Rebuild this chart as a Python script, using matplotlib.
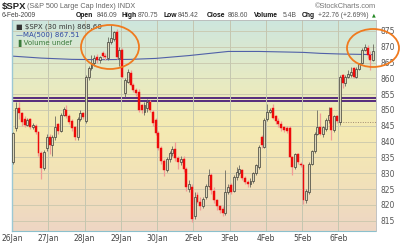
import matplotlib
matplotlib.use("Agg")
import matplotlib.pyplot as plt
import numpy as np
from matplotlib.patches import Ellipse
from matplotlib.colors import LinearSegmentedColormap

# 30 minute bars, 13 per trading day
day_labels = ["26Jan", "27Jan", "28Jan", "29Jan", "30Jan", "2Feb", "3Feb", "4Feb", "5Feb", "6Feb"]

opens = [
    833.5, 844.2, 850.5, 849.0, 847.0, 845.3, 847.0, 844.7, 844.9, 843.1, 836.3, 831.6, 837.9,
    841.6, 838.8, 841.5, 845.5, 843.2, 848.4, 850.0, 848.2, 846.5, 844.7, 841.6, 847.0, 849.0,
    846.5, 860.5, 863.2, 864.8, 866.8, 865.8, 868.0, 867.0, 866.4, 871.6, 872.5, 874.7, 866.5,
    868.9, 855.3, 859.0, 861.6, 857.9, 856.3, 855.8, 851.6, 849.5, 850.5, 852.6, 849.5, 846.8,
    842.6, 838.0, 834.0, 831.0, 834.5, 836.3, 837.8, 834.8, 833.5, 834.5, 831.5, 825.0, 825.7,
    816.5, 823.0, 821.0, 819.5, 822.5, 826.0, 829.4, 824.5, 821.5, 819.5, 818.8, 817.5, 824.0,
    826.3, 824.5, 828.9, 830.0, 831.0, 828.4, 827.3, 826.5, 827.5, 830.0, 832.0, 841.5, 838.4,
    847.0, 849.5, 850.5, 848.0, 846.5, 845.5, 844.5, 844.2, 844.2, 835.0, 832.0, 836.0, 833.0,
    832.6, 821.5, 824.0, 833.0, 837.0, 842.5, 844.5, 842.5, 844.0, 846.8, 850.5, 843.7, 848.0,
    846.1, 861.0, 858.5, 860.5, 861.0, 863.2, 860.5, 863.0, 864.7, 869.0, 869.5, 867.5, 865.8,
]
closes = [
    842.6, 850.5, 849.0, 846.3, 845.3, 846.8, 844.7, 845.3, 843.1, 836.3, 831.6, 836.8, 841.6,
    838.8, 841.5, 844.5, 843.2, 848.4, 850.2, 848.2, 846.3, 844.2, 841.6, 847.2, 849.0, 847.8,
    860.5, 863.2, 864.8, 866.5, 865.8, 866.6, 867.0, 866.6, 871.6, 872.6, 874.5, 866.8, 869.0,
    860.5, 859.5, 862.1, 857.9, 856.3, 855.3, 850.0, 850.0, 851.6, 852.6, 850.0, 845.8, 842.6,
    838.0, 834.0, 831.0, 834.5, 836.5, 837.8, 834.8, 833.5, 834.5, 831.5, 825.5, 826.5, 815.7,
    822.5, 821.0, 819.5, 822.0, 826.0, 829.4, 824.7, 821.5, 819.5, 818.5, 817.5, 824.0, 825.5,
    824.2, 828.9, 830.5, 831.5, 828.4, 827.3, 826.5, 827.5, 830.0, 832.5, 838.4, 838.9, 846.8,
    849.5, 850.0, 847.5, 846.5, 845.5, 844.2, 843.8, 843.5, 835.2, 832.0, 836.0, 833.5, 832.5,
    821.5, 824.5, 833.0, 837.0, 842.5, 844.5, 842.5, 844.5, 846.8, 848.5, 843.7, 848.0, 846.6,
    860.5, 858.5, 860.5, 861.5, 862.0, 860.5, 863.0, 864.7, 869.0, 869.8, 867.4, 865.8, 868.6,
]
highs = [
    843.0, 852.6, 852.6, 849.5, 848.0, 847.5, 847.5, 846.0, 845.5, 843.5, 837.0, 837.5, 842.5,
    842.5, 842.0, 848.0, 846.0, 849.0, 850.8, 851.5, 848.8, 847.0, 845.0, 847.8, 850.0, 849.5,
    861.0, 864.0, 867.5, 867.5, 867.8, 867.2, 868.5, 868.0, 873.0, 876.9, 875.0, 875.5, 870.0,
    869.5, 860.0, 863.0, 862.5, 858.5, 857.0, 856.5, 852.0, 852.5, 853.5, 853.0, 850.0, 847.5,
    843.5, 838.5, 834.5, 835.0, 837.0, 838.5, 840.0, 835.5, 835.5, 835.5, 832.0, 828.0, 826.5,
    824.0, 824.0, 822.5, 822.5, 826.5, 831.5, 830.0, 825.5, 822.0, 820.0, 819.5, 831.0, 826.5,
    827.0, 829.5, 832.0, 832.5, 831.5, 829.0, 828.0, 828.5, 830.5, 833.0, 839.0, 842.0, 847.5,
    852.0, 850.5, 852.0, 848.5, 847.5, 846.5, 845.0, 844.8, 844.8, 835.5, 836.5, 836.5, 833.5,
    833.0, 825.0, 833.5, 837.5, 843.0, 850.0, 849.0, 845.0, 847.5, 851.0, 851.0, 848.5, 848.5,
    861.0, 861.5, 861.0, 862.5, 863.5, 863.7, 863.5, 865.0, 869.5, 870.75, 870.5, 868.5, 871.0,
]
lows = [
    833.0, 843.5, 847.0, 845.0, 844.5, 844.8, 844.0, 844.0, 842.5, 835.5, 828.1, 831.0, 837.0,
    836.0, 835.5, 840.5, 842.5, 843.0, 848.0, 847.5, 845.5, 843.5, 840.5, 840.5, 846.5, 847.0,
    846.0, 859.5, 862.5, 864.0, 865.0, 865.0, 866.3, 865.8, 865.8, 871.0, 871.8, 866.0, 864.0,
    860.0, 854.0, 858.5, 857.5, 855.8, 854.5, 849.5, 849.0, 848.5, 849.5, 849.5, 845.0, 842.0,
    837.5, 833.0, 829.0, 830.5, 833.5, 835.5, 834.0, 831.5, 832.5, 830.5, 824.5, 824.0, 814.5,
    815.5, 820.5, 818.5, 819.0, 822.0, 825.5, 823.5, 820.5, 818.5, 817.5, 816.5, 816.8, 823.5,
    823.5, 824.0, 828.0, 829.5, 828.0, 826.5, 825.5, 825.8, 827.0, 829.5, 831.5, 838.0, 838.0,
    846.5, 849.0, 847.0, 845.5, 844.5, 843.5, 843.0, 842.8, 835.0, 829.5, 831.5, 833.0, 832.0,
    820.3, 820.5, 823.5, 832.5, 836.5, 842.0, 842.0, 841.5, 843.5, 846.0, 840.5, 843.0, 846.0,
    845.4, 856.8, 857.5, 860.0, 860.5, 860.0, 860.0, 862.5, 864.5, 868.5, 866.5, 862.6, 865.5,
]

# MA(500) read at a few bar positions
ma_bars = [0, 10, 21, 31, 42, 51, 63, 77, 88, 99, 104, 110, 117, 129]
ma_vals = [867.0, 866.4, 866.0, 865.9, 866.0, 866.3, 867.2, 868.5, 868.5, 868.3, 868.2, 867.9, 867.7, 867.5]

resistance = [853.9, 852.8]
today_open = 846.09

fig = plt.figure(figsize=(4.0, 2.43), dpi=100)
fig.patch.set_facecolor("white")
ax = fig.add_axes([12 / 400, 1 - 231 / 243, 364 / 400, 211 / 243])

ymin, ymax = 811.75, 878.44
xmin, xmax = -0.5, 130.0

# background gradient
cmap = LinearSegmentedColormap.from_list(
    "bg", ["#cde6de", "#e4eac6", "#f5ebb2", "#f2e2b8", "#eed6c4"])
grad = np.linspace(0, 1, 256).reshape(-1, 1)
ax.imshow(grad, aspect="auto", cmap=cmap, extent=[xmin, xmax, ymin, ymax],
          origin="upper", zorder=0)

ax.set_xlim(xmin, xmax)
ax.set_ylim(ymin, ymax)

# grid
for v in range(815, 880, 5):
    ax.axhline(v, color="#c9c7ad", lw=0.6, zorder=1)
for d in range(1, len(day_labels)):
    ax.axvline(d * 13 - 0.5, color="#c4c6b0", lw=0.7, zorder=1.6)

for r in resistance:
    ax.axhline(r, color="#4a1c78", lw=1.3, zorder=1.5)

ax.hlines(today_open, 117 - 0.5, xmax, colors="#a08a70", lw=0.7,
          linestyles=(0, (1, 1.5)), zorder=1.7)

ax.plot(ma_bars, ma_vals, color="#5060a8", lw=0.8, zorder=2)

# candles
x = np.arange(len(closes))
o = np.array(opens)
c = np.array(closes)
h = np.array(highs)
l = np.array(lows)
up = c >= o
ax.vlines(x[up], l[up], h[up], color="#6a6a60", lw=0.6, zorder=3)
ax.vlines(x[~up], l[~up], h[~up], color="#f29a95", lw=0.9, zorder=3)
body_lo = np.minimum(o, c)
body_h = np.maximum(np.abs(c - o), 0.25)
ax.bar(x[up], body_h[up], bottom=body_lo[up], width=0.7, facecolor="#ddd8bc",
       edgecolor="#3c3c36", linewidth=0.5, zorder=4)
ax.bar(x[~up], body_h[~up], bottom=body_lo[~up], width=0.7, facecolor="#ee0a0a",
       edgecolor="#ee0a0a", linewidth=0.3, zorder=4)

# axes styling
ax.yaxis.tick_right()
ax.set_yticks(range(815, 880, 5))
ax.set_yticklabels([str(v) for v in range(815, 880, 5)], fontsize=5.5, color="#555555")
ax.set_xticks([d * 13 - 0.5 for d in range(len(day_labels))])
ax.set_xticklabels(day_labels, fontsize=5.5, color="#444444")
ax.tick_params(length=0, pad=2)
ax.tick_params(axis="y", pad=3)
for s in ["top", "right"]:
    ax.spines[s].set_color("#b8b8b8")
    ax.spines[s].set_linewidth(0.6)
ax.spines["left"].set_color("#9cc8d4")
ax.spines["left"].set_linewidth(1.0)
ax.spines["bottom"].set_color("#8cc0cc")
ax.spines["bottom"].set_linestyle((0, (1, 1)))
ax.spines["bottom"].set_linewidth(0.8)

# in-plot legend
ax.text(0.012, 0.985, "\u25a0 $SPX (30 min) 868.60", transform=ax.transAxes,
        fontsize=5.0, color="#333333", va="top")
ax.text(0.012, 0.945, "\u2014MA(500) 867.51", transform=ax.transAxes,
        fontsize=5.0, color="#3048a0", va="top")
ax.text(0.012, 0.905, "\u2590 Volume undef", transform=ax.transAxes,
        fontsize=5.0, color="#3a7a3a", va="top")

# header
fig.text(2 / 400, 1 - 7 / 243, "$SPX", fontsize=6.8, fontweight="bold",
         family="Liberation Sans", color="#222222", va="center")
fig.text(27 / 400, 1 - 7 / 243, "(S&P 500 Large Cap Index) INDX", fontsize=5.2,
         family="Liberation Sans", color="#666666", va="center")
fig.text(376 / 400, 1 - 6 / 243, "\u00a9StockCharts.com", fontsize=5.3,
         family="Liberation Sans", color="#777777", va="center", ha="right")
fig.text(2 / 400, 1 - 15 / 243, "6-Feb-2009", fontsize=4.8, family="Liberation Sans",
         color="#444444", va="center")
header = [
    (76, "Open", True), (97, "846.09", False), (122, "High", True), (138, "870.75", False),
    (163, "Low", True), (178, "845.42", False), (207, "Close", True), (228, "868.60", False),
    (254, "Volume", True), (283, "5.4B", False), (302, "Chg", True),
    (318, "+22.76 (+2.69%)", False),
]
for px, txt, bold in header:
    fig.text(px / 400, 1 - 15 / 243, txt, fontsize=4.9, family="Liberation Sans",
             fontweight="bold" if bold else "normal",
             color="#111111" if bold else "#555555", va="center")
fig.text(372 / 400, 1 - 15 / 243, "\u25b2", fontsize=3.5, color="#228822", va="center")

# highlight ellipses
for cx, cy, w, hh in [(110, 47, 58, 44), (373, 48, 52, 38)]:
    e = Ellipse((cx / 400, 1 - cy / 243), w / 400, hh / 243, transform=fig.transFigure,
                fill=False, edgecolor="#f07a1e", lw=1.3, zorder=10, clip_on=False)
    fig.patches.append(e)

fig.savefig("out.png", dpi=100)
